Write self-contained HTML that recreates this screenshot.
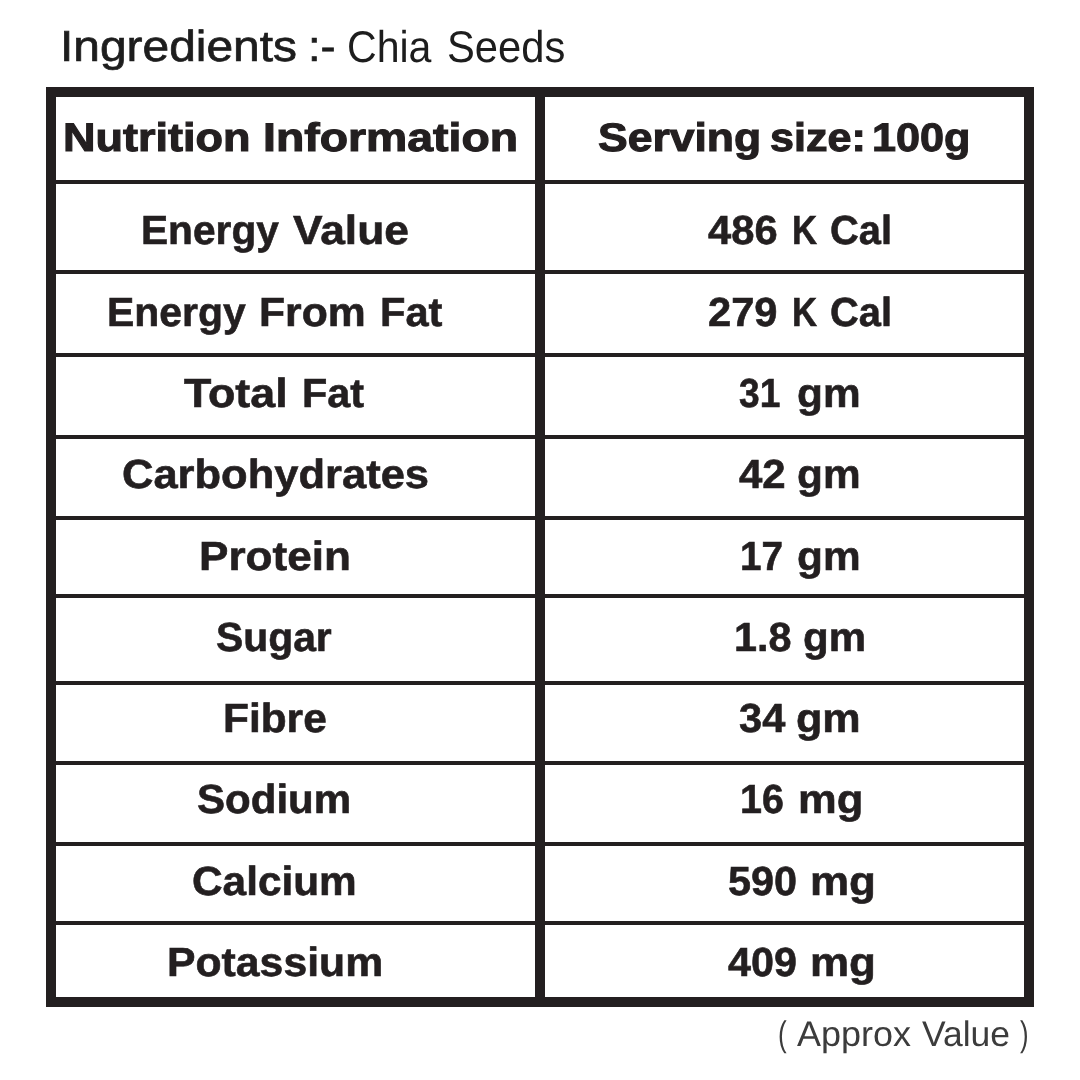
<!DOCTYPE html>
<html lang="en">
<head>
<meta charset="utf-8">
<title>Nutrition Information</title>
<style>
*{margin:0;padding:0;box-sizing:border-box}
html,body{width:1080px;height:1080px;background:#fff;overflow:hidden}
body{font-family:"Liberation Sans", sans-serif;color:#231f20}
main{position:relative;width:1080px;height:1080px;will-change:transform}
.ln{position:absolute;background:#231f20}
.t{position:absolute;left:0;white-space:pre;line-height:1;text-rendering:geometricPrecision}
.t span{position:absolute;top:0;transform-origin:0 0}
.hd,.c{font-weight:bold}
</style>
</head>
<body>
<main>
<!-- table frame -->
<div class="ln" style="left:46px;top:87px;width:988px;height:10px"></div>
<div class="ln" style="left:46px;top:996.6px;width:988px;height:10px"></div>
<div class="ln" style="left:46px;top:87px;width:10px;height:919.6px"></div>
<div class="ln" style="left:1024px;top:87px;width:10px;height:919.6px"></div>
<div class="ln" style="left:535px;top:87px;width:10px;height:919.6px"></div>
<!-- row rules -->
<div class="ln" style="left:46px;top:180px;width:988px;height:4px"></div>
<div class="ln" style="left:46px;top:270px;width:988px;height:4px"></div>
<div class="ln" style="left:46px;top:353px;width:988px;height:4px"></div>
<div class="ln" style="left:46px;top:435px;width:988px;height:4px"></div>
<div class="ln" style="left:46px;top:516px;width:988px;height:4px"></div>
<div class="ln" style="left:46px;top:594px;width:988px;height:4px"></div>
<div class="ln" style="left:46px;top:681px;width:988px;height:4px"></div>
<div class="ln" style="left:46px;top:761px;width:988px;height:4px"></div>
<div class="ln" style="left:46px;top:841.7px;width:988px;height:4px"></div>
<div class="ln" style="left:46px;top:921px;width:988px;height:4px"></div>
<!-- text -->
<div class="t ttl b" style="top:26px;font-size:43.35px;color:#1d1d1d;-webkit-text-stroke:0.7px #1d1d1d;"><span style="left:60.11px;transform:scaleX(1.1052)">Ingredients</span> <span style="left:307.67px;transform:scaleX(1.0411)">:-</span></div>
<div class="t ttl" style="top:26px;font-size:44.36px;color:#1d1d1d;"><span style="left:347.3px;transform:scaleX(0.9257)">Chia</span> <span style="left:446.77px;transform:scaleX(0.9407)">Seeds</span></div>
<div class="t hd" style="top:119px;font-size:39.85px;color:#231f20;-webkit-text-stroke:1.1px #231f20;"><span style="left:62.89px;transform:scaleX(1.1299)">Nutrition</span> <span style="left:262.82px;transform:scaleX(1.1645)">Information</span></div>
<div class="t hd" style="top:119px;font-size:39.85px;color:#231f20;-webkit-text-stroke:1.1px #231f20;"><span style="left:597.56px;transform:scaleX(1.1173)">Serving</span> <span style="left:769.99px;transform:scaleX(1.0819)">size:</span> <span style="left:872.02px;transform:scaleX(1.0835)">100g</span></div>
<div class="t c" style="top:210px;font-size:40.58px;color:#231f20;-webkit-text-stroke:0.6px #231f20;"><span style="left:141.4px;transform:scaleX(1.0022)">Energy</span> <span style="left:292.93px;transform:scaleX(1.094)">Value</span></div>
<div class="t c" style="top:292px;font-size:40.58px;color:#231f20;-webkit-text-stroke:0.6px #231f20;"><span style="left:107.18px;transform:scaleX(1.0088)">Energy</span> <span style="left:259.3px;transform:scaleX(1.0514)">From</span> <span style="left:379.65px;transform:scaleX(1.0254)">Fat</span></div>
<div class="t c" style="top:373px;font-size:40.58px;color:#231f20;-webkit-text-stroke:0.6px #231f20;"><span style="left:184.3px;transform:scaleX(1.1033)">Total</span> <span style="left:302.36px;transform:scaleX(1.0186)">Fat</span></div>
<div class="t c" style="top:454px;font-size:40.58px;color:#231f20;-webkit-text-stroke:0.6px #231f20;"><span style="left:121.73px;transform:scaleX(1.0722)">Carbohydrates</span></div>
<div class="t c" style="top:536px;font-size:40.58px;color:#231f20;-webkit-text-stroke:0.6px #231f20;"><span style="left:198.98px;transform:scaleX(1.0868)">Protein</span></div>
<div class="t c" style="top:617px;font-size:40.58px;color:#231f20;-webkit-text-stroke:0.6px #231f20;"><span style="left:216.45px;transform:scaleX(1.0065)">Sugar</span></div>
<div class="t c" style="top:698px;font-size:40.58px;color:#231f20;-webkit-text-stroke:0.6px #231f20;"><span style="left:223.31px;transform:scaleX(1.0456)">Fibre</span></div>
<div class="t c" style="top:779px;font-size:40.58px;color:#231f20;-webkit-text-stroke:0.6px #231f20;"><span style="left:197.42px;transform:scaleX(1.0359)">Sodium</span></div>
<div class="t c" style="top:861px;font-size:40.58px;color:#231f20;-webkit-text-stroke:0.6px #231f20;"><span style="left:192.36px;transform:scaleX(1.0439)">Calcium</span></div>
<div class="t c" style="top:942px;font-size:40.58px;color:#231f20;-webkit-text-stroke:0.6px #231f20;"><span style="left:167.04px;transform:scaleX(1.0532)">Potassium</span></div>
<div class="t c" style="top:210px;font-size:40.58px;color:#231f20;-webkit-text-stroke:0.6px #231f20;"><span style="left:708.2px;transform:scaleX(1.0284)">486</span> <span style="left:791.79px;transform:scaleX(0.8558)">K</span> <span style="left:830.02px;transform:scaleX(0.9817)">Cal</span></div>
<div class="t c" style="top:292px;font-size:40.58px;color:#231f20;-webkit-text-stroke:0.6px #231f20;"><span style="left:708.27px;transform:scaleX(1.0273)">279</span> <span style="left:791.79px;transform:scaleX(0.8558)">K</span> <span style="left:830.02px;transform:scaleX(0.9817)">Cal</span></div>
<div class="t c" style="top:373px;font-size:40.58px;color:#231f20;-webkit-text-stroke:0.6px #231f20;"><span style="left:739.21px;transform:scaleX(0.9154)">31</span> <span style="left:796.86px;transform:scaleX(1.044)">gm</span></div>
<div class="t c" style="top:454px;font-size:40.58px;color:#231f20;-webkit-text-stroke:0.6px #231f20;"><span style="left:739.15px;transform:scaleX(1.0352)">42</span> <span style="left:796.86px;transform:scaleX(1.044)">gm</span></div>
<div class="t c" style="top:536px;font-size:40.58px;color:#231f20;-webkit-text-stroke:0.6px #231f20;"><span style="left:739.74px;transform:scaleX(0.9536)">17</span> <span style="left:796.86px;transform:scaleX(1.044)">gm</span></div>
<div class="t c" style="top:617px;font-size:40.58px;color:#231f20;-webkit-text-stroke:0.6px #231f20;"><span style="left:733.86px;transform:scaleX(1.0187)">1.8</span> <span style="left:803.11px;transform:scaleX(1.0353)">gm</span></div>
<div class="t c" style="top:698px;font-size:40.58px;color:#231f20;-webkit-text-stroke:0.6px #231f20;"><span style="left:739.02px;transform:scaleX(1.0251)">34</span> <span style="left:796.44px;transform:scaleX(1.0621)">gm</span></div>
<div class="t c" style="top:779px;font-size:40.58px;color:#231f20;-webkit-text-stroke:0.6px #231f20;"><span style="left:739.65px;transform:scaleX(0.9738)">16</span> <span style="left:797.96px;transform:scaleX(1.072)">mg</span></div>
<div class="t c" style="top:861px;font-size:40.58px;color:#231f20;-webkit-text-stroke:0.6px #231f20;"><span style="left:727.7px;transform:scaleX(1.0194)">590</span> <span style="left:809.73px;transform:scaleX(1.0826)">mg</span></div>
<div class="t c" style="top:942px;font-size:40.58px;color:#231f20;-webkit-text-stroke:0.6px #231f20;"><span style="left:727.8px;transform:scaleX(1.0179)">409</span> <span style="left:809.73px;transform:scaleX(1.0826)">mg</span></div>
<div class="t ft" style="top:1017px;font-size:35.49px;color:#3c3c3c;"><span style="left:777.68px;transform:scaleX(0.736)">(</span> <span style="left:797.4px;transform:scaleX(1.0138)">Approx</span> <span style="left:921.53px;transform:scaleX(0.9991)">Value</span> <span style="left:1019.95px;transform:scaleX(0.7252)">)</span></div>
</main>
</body>
</html>
